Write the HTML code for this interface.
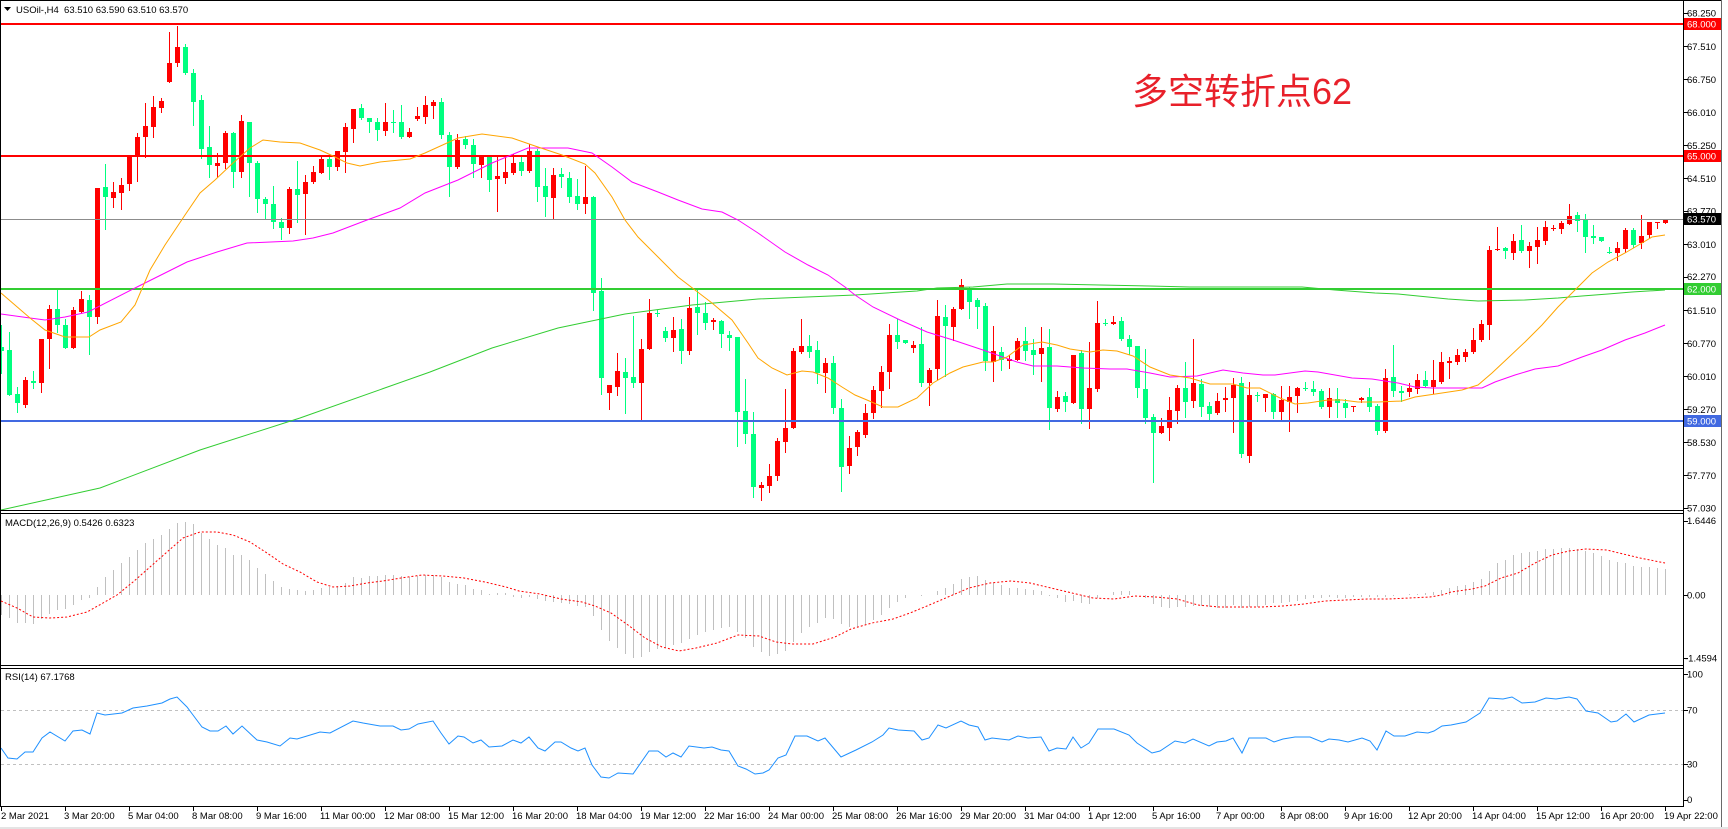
<!DOCTYPE html>
<html><head><meta charset="utf-8">
<style>
html,body{margin:0;padding:0;background:#fff;overflow:hidden;}
svg{display:block;}
text{font-family:"Liberation Sans",Arial,sans-serif;fill:#000;}
text.w{fill:#fff;}
.ax{font-size:9.5px;}
.tl{font-size:9.5px;}
.lb{font-size:9.5px;}
</style></head><body>
<svg id="c" width="1728" height="829" viewBox="0 0 1728 829" xmlns="http://www.w3.org/2000/svg">
<rect width="1728" height="829" fill="#fff"/>
<g id="hist" shape-rendering="crispEdges"></g>
<g id="cand" shape-rendering="crispEdges"></g>
<g shape-rendering="crispEdges">
<rect x="1" y="23" width="1682" height="2" fill="#ff0000"/>
<rect x="1" y="155" width="1682" height="2" fill="#ff0000"/>
<rect x="1" y="219" width="1682" height="1" fill="#8c8c8c"/>
<rect x="1" y="288" width="1682" height="2" fill="#32cd32"/>
<rect x="1" y="420" width="1682" height="2" fill="#4169e1"/>
</g>
<polyline fill="none" stroke="#32cd32" stroke-width="1" points="1,510 100,488 200,450 300,418 430,372 492,348 558,328 625,314 692,305 758,299 855,295 917,291 937,288 973,287 1007,284 1053,284 1100,285 1150,286 1190,287 1280,287 1302,287 1335,290 1375,293 1398,294 1418,296 1448,299 1478,301 1525,300 1558,298 1582,296 1608,294 1632,292 1665,290"/>
<polyline fill="none" stroke="#ff00ff" stroke-width="1" points="1,314 30,318 45,320 65,317 88,312 137,287 187,262 217,252 247,243 293,241 313,238 333,233 367,220 400,208 425,193 458,180 492,163 528,148 568,148 592,153 612,167 632,182 658,192 678,200 702,209 722,212 738,220 758,233 785,252 808,265 828,275 845,287 855,295 873,307 900,320 927,332 953,340 983,350 1017,362 1033,366 1057,366 1083,368 1110,369 1127,369 1150,373 1170,377 1197,376 1223,370 1243,373 1263,375 1275,375 1305,371 1318,372 1352,378 1372,379 1398,383 1415,387 1432,388 1482,388 1495,382 1515,375 1535,369 1558,366 1582,357 1602,350 1625,340 1645,333 1665,325"/>
<polyline fill="none" stroke="#ffa500" stroke-width="1" points="1,293 30,318 45,330 65,337 89,337 100,330 121,322 135,305 150,270 165,245 185,215 200,193 215,180 233,163 250,148 263,140 280,142 300,143 320,150 333,156 347,163 360,166 380,162 410,159 425,153 458,138 482,134 512,138 535,146 562,155 585,164 595,173 612,197 625,220 638,237 658,257 678,277 695,290 712,303 732,320 748,343 758,358 772,368 787,375 802,371 813,372 828,378 842,387 855,395 867,400 883,407 898,407 917,398 933,383 950,373 963,367 983,362 993,362 1007,357 1023,345 1042,342 1057,345 1070,349 1090,352 1103,350 1117,351 1133,356 1150,367 1170,375 1190,378 1210,384 1233,384 1247,388 1260,388 1280,398 1295,404 1308,403 1328,400 1342,400 1358,402 1378,402 1402,401 1415,397 1442,393 1462,390 1478,385 1492,373 1508,358 1525,342 1542,325 1558,307 1575,290 1592,273 1608,262 1625,253 1642,243 1652,237 1665,235"/>
<polyline fill="none" stroke="#ff0000" stroke-width="1" stroke-dasharray="2 2" points="1,601 17,608 33,617 50,618 67,617 87,612 103,603 117,595 133,582 150,567 167,552 183,538 200,532 217,532 233,535 250,542 267,553 283,564 300,572 317,582 333,587 350,586 367,583 383,581 401,578 422,575 443,576 464,578 485,582 506,587 519,591 540,594 561,599 582,602 595,606 611,613 628,625 645,638 662,647 679,651 696,648 717,643 738,635 759,636 776,642 792,644 813,644 835,637 851,629 872,623 893,619 910,613 927,606 948,597 969,588 990,583 1011,581 1030,583 1051,588 1072,593 1093,598 1114,599 1135,596 1156,597 1177,599 1198,605 1219,607 1240,607 1261,607 1283,606 1304,604 1325,601 1346,600 1367,599 1388,599 1409,598 1430,597 1442,595 1451,592 1472,589 1485,586 1501,578 1518,573 1535,563 1552,555 1569,551 1586,549 1607,550 1619,553 1640,558 1665,563"/>
<line x1="1" y1="710.5" x2="1683" y2="710.5" stroke="#c0c0c0" stroke-width="1" stroke-dasharray="3 3"/>
<line x1="1" y1="764.5" x2="1683" y2="764.5" stroke="#c0c0c0" stroke-width="1" stroke-dasharray="3 3"/>
<polyline fill="none" stroke="#1e90ff" stroke-width="1" points="1,748 8,758 17,759 25,752 33,752 42,738 50,732 65,741 73,731 82,730 90,734 97,713 105,715 122,713 133,708 147,706 162,703 170,699 177,697 187,707 193,715 202,727 210,731 218,731 226,726 233,734 242,726 257,740 267,742 280,746 290,738 297,739 307,736 320,732 330,733 353,721 363,723 380,726 393,726 401,730 409,729 418,724 433,721 441,733 449,744 458,736 464,737 473,743 481,740 489,747 502,746 513,740 521,743 529,737 538,748 545,751 555,742 561,742 571,748 578,751 585,748 592,765 601,777 609,778 618,773 633,774 649,751 658,751 666,757 673,753 681,757 689,746 704,748 712,747 721,750 729,751 738,766 746,769 755,774 763,773 769,770 778,758 786,755 795,736 807,736 818,741 825,738 841,757 856,750 872,742 883,735 889,728 898,730 914,731 922,740 929,738 938,725 946,728 961,721 969,725 978,727 985,740 992,738 1009,740 1018,736 1028,738 1041,737 1049,751 1057,748 1066,749 1073,737 1081,748 1089,743 1098,729 1114,729 1129,735 1137,743 1152,753 1160,751 1175,741 1185,743 1193,739 1209,746 1217,742 1226,741 1233,738 1242,753 1249,738 1266,738 1274,742 1283,739 1295,737 1310,737 1322,742 1329,739 1339,740 1348,742 1362,738 1370,741 1377,750 1386,731 1394,736 1405,736 1417,732 1428,733 1434,731 1442,726 1451,725 1466,722 1480,713 1489,698 1503,699 1512,697 1522,703 1535,702 1546,698 1556,699 1569,697 1577,699 1586,711 1598,713 1611,722 1617,721 1626,714 1634,722 1649,715 1657,714 1665,713"/>
<g shape-rendering="crispEdges" fill="#000">
<rect x="0" y="0" width="1722" height="1"/>
<rect x="0" y="0" width="1" height="807"/>
<rect x="1683" y="0" width="1" height="807"/>
<rect x="0" y="510" width="1684" height="1"/>
<rect x="0" y="513" width="1684" height="1"/>
<rect x="0" y="665" width="1684" height="1"/>
<rect x="0" y="668" width="1684" height="1"/>
<rect x="0" y="806" width="1684" height="1"/>
<rect x="1721" y="0" width="1" height="829" fill="#6a6a6a"/>
<rect x="0" y="827" width="1728" height="2" fill="#e4e4e4"/>
</g>
<g id="ticks" shape-rendering="crispEdges" fill="#000"></g>
<g class="ax">
<text x="1687" y="16.5">68.250</text>
<text x="1687" y="50">67.510</text>
<text x="1687" y="83">66.750</text>
<text x="1687" y="116">66.010</text>
<text x="1687" y="149">65.250</text>
<text x="1687" y="182">64.510</text>
<text x="1687" y="214.5">63.770</text>
<text x="1687" y="248">63.010</text>
<text x="1687" y="280">62.270</text>
<text x="1687" y="314">61.510</text>
<text x="1687" y="347">60.770</text>
<text x="1687" y="380">60.010</text>
<text x="1687" y="413">59.270</text>
<text x="1687" y="446">58.530</text>
<text x="1687" y="479">57.770</text>
<text x="1687" y="511.5">57.030</text>
</g>
<g shape-rendering="crispEdges">
<rect x="1684" y="18" width="37" height="12" fill="#ff0000"/>
<rect x="1684" y="150" width="37" height="12" fill="#ff0000"/>
<rect x="1684" y="213" width="37" height="12" fill="#000"/>
<rect x="1684" y="283" width="37" height="12" fill="#32cd32"/>
<rect x="1684" y="415" width="37" height="12" fill="#4169e1"/>
</g>
<g class="ax">
<text class="w" x="1687" y="27.5">68.000</text>
<text class="w" x="1687" y="159.5">65.000</text>
<text class="w" x="1687" y="222.5">63.570</text>
<text class="w" x="1687" y="292.5">62.000</text>
<text class="w" x="1687" y="424.5">59.000</text>
</g>
<g class="ax">
<text x="1687" y="524">1.6446</text>
<text x="1687" y="598.5">0.00</text>
<text x="1685" y="661.5">-1.4594</text>
<text x="1687" y="677.5">100</text>
<text x="1687" y="713.5">70</text>
<text x="1687" y="767.5">30</text>
<text x="1687" y="803">0</text>
</g>
<polygon points="4,7 11,7 7.5,11" fill="#000"/>
<text class="lb" x="16" y="13" xml:space="preserve">USOil-,H4  63.510 63.590 63.510 63.570</text>
<text class="lb" x="5" y="526">MACD(12,26,9) 0.5426 0.6323</text>
<text class="lb" x="5" y="680">RSI(14) 67.1768</text>
<text x="1132" y="104" style="font-family:'Liberation Sans','Noto Sans CJK SC',sans-serif;font-size:36px;fill:#e8202a;">多空转折点62</text>
<g id="tticks" shape-rendering="crispEdges" fill="#000"></g>
<g class="tl">
<text x="1" y="819">2 Mar 2021</text>
<text x="64" y="819">3 Mar 20:00</text>
<text x="128" y="819">5 Mar 04:00</text>
<text x="192" y="819">8 Mar 08:00</text>
<text x="256" y="819">9 Mar 16:00</text>
<text x="320" y="819">11 Mar 00:00</text>
<text x="384" y="819">12 Mar 08:00</text>
<text x="448" y="819">15 Mar 12:00</text>
<text x="512" y="819">16 Mar 20:00</text>
<text x="576" y="819">18 Mar 04:00</text>
<text x="640" y="819">19 Mar 12:00</text>
<text x="704" y="819">22 Mar 16:00</text>
<text x="768" y="819">24 Mar 00:00</text>
<text x="832" y="819">25 Mar 08:00</text>
<text x="896" y="819">26 Mar 16:00</text>
<text x="960" y="819">29 Mar 20:00</text>
<text x="1024" y="819">31 Mar 04:00</text>
<text x="1088" y="819">1 Apr 12:00</text>
<text x="1152" y="819">5 Apr 16:00</text>
<text x="1216" y="819">7 Apr 00:00</text>
<text x="1280" y="819">8 Apr 08:00</text>
<text x="1344" y="819">9 Apr 16:00</text>
<text x="1408" y="819">12 Apr 20:00</text>
<text x="1472" y="819">14 Apr 04:00</text>
<text x="1536" y="819">15 Apr 12:00</text>
<text x="1600" y="819">16 Apr 20:00</text>
<text x="1664" y="819">19 Apr 22:00</text>
</g>
</svg>
<script>
(function(){
var C=[
[0,325,347,351,373],[0,332,350,395,395],[0,387,394,403,412],[1,377,380,405,407],[0,371,381,383,388],
[1,339,339,383,392],[1,305,309,339,368],[0,289,309,325,332],[0,319,325,348,348],[1,307,310,348,348],
[1,291,299,312,312],[0,295,300,317,354],[1,188,188,317,323],[0,164,187,197,229],[1,182,192,198,207],
[1,178,185,193,209],[1,157,157,184,190],[1,133,137,157,181],[1,103,126,137,157],[1,96,107,127,137],
[1,98,101,108,112],[1,32,63,82,82],[1,26,47,63,66],[0,44,47,73,74],[0,69,73,102,125],
[0,95,100,149,158],[0,126,147,165,177],[1,153,163,166,177],[1,131,133,163,168],[0,132,133,172,187],
[1,115,121,172,177],[0,122,122,163,196],[0,161,163,199,212],[0,197,199,204,219],[0,186,204,222,228],
[0,218,222,228,239],[1,187,189,228,233],[0,161,189,195,222],[1,175,182,194,234],[1,166,172,182,183],
[1,157,159,173,173],[0,157,159,167,179],[1,151,151,167,170],[1,123,127,152,172],[1,109,109,129,142],
[0,104,108,118,119],[0,118,118,122,132],[0,118,122,130,140],[1,103,122,131,135],[0,110,122,123,132],
[0,105,122,137,138],[1,128,132,137,137],[1,107,116,119,120],[1,96,105,117,123],[1,100,102,106,118],
[0,98,102,135,138],[0,132,135,167,196],[1,134,140,167,168],[0,136,139,145,148],[0,139,145,164,177],
[1,156,156,165,177],[0,157,157,180,191],[1,157,176,179,211],[1,157,172,178,183],[1,154,163,173,174],
[0,157,162,171,175],[1,144,151,171,172],[0,149,151,187,201],[0,168,186,197,216],[1,168,175,198,219],
[0,168,174,177,187],[0,172,178,197,202],[0,179,196,204,209],[1,166,197,204,213],[0,196,197,293,310],
[0,278,291,378,394],[1,385,385,393,409],[1,353,371,387,395],[0,358,372,378,413],[0,316,377,383,387],
[1,339,349,383,420],[1,299,313,349,349],[0,310,313,314,316],[0,327,331,338,341],[1,317,330,338,351],
[0,319,329,351,363],[1,297,308,351,354],[0,289,307,313,334],[0,302,313,323,329],[1,318,320,322,329],
[0,320,321,334,347],[0,331,335,338,350],[0,337,337,412,446],[0,379,411,434,443],[0,412,434,487,497],
[1,482,485,488,500],[1,464,476,486,492],[1,438,441,476,480],[1,389,428,442,452],[1,348,351,428,428],
[1,319,346,352,353],[0,335,346,352,357],[0,341,350,373,383],[1,358,363,373,392],[0,356,363,408,413],
[0,399,408,467,491],[1,436,448,466,473],[1,430,432,447,455],[1,404,413,435,437],[1,386,390,413,418],
[1,366,372,391,407],[1,324,335,372,388],[0,319,335,342,348],[0,340,340,343,343],[1,341,345,348,352],
[0,327,344,383,386],[1,368,370,383,405],[1,300,316,369,379],[0,305,317,326,376],[1,307,309,327,340],
[1,279,285,309,309],[0,287,289,302,318],[0,298,300,307,328],[0,303,306,361,370],[1,326,351,362,381],
[0,347,352,360,370],[1,355,359,361,368],[1,338,341,360,360],[0,327,341,351,360],[0,339,350,355,374],
[1,327,348,354,381],[0,329,347,408,429],[1,391,397,409,411],[0,392,396,402,411],[1,355,355,403,403],
[0,350,353,409,423],[1,342,388,409,428],[1,301,323,389,391],[0,319,323,323,325],[1,316,322,324,324],
[0,317,321,339,340],[0,335,339,347,354],[0,346,346,388,397],[0,349,389,418,423],[0,414,417,433,482],
[1,418,426,433,433],[1,397,410,428,440],[1,385,388,411,423],[0,362,388,402,417],[1,339,383,401,407],
[0,379,384,407,416],[0,402,406,414,420],[1,393,401,413,414],[1,387,398,400,411],[1,378,385,398,432],
[0,377,383,454,457],[1,382,395,456,462],[0,392,395,396,401],[1,394,394,398,411],[0,393,394,412,418],
[1,386,400,412,419],[1,386,397,402,431],[1,387,388,396,412],[0,382,388,389,390],[0,381,389,392,395],
[0,389,391,407,408],[1,388,398,407,417],[0,388,399,403,417],[0,399,403,408,417],[1,406,406,407,411],
[1,397,398,400,402],[0,388,397,407,411],[0,404,406,431,434],[1,369,378,431,432],[0,345,377,391,396],
[0,386,391,393,401],[1,383,388,392,396],[1,374,380,389,393],[0,371,380,386,387],[1,360,380,387,393],
[1,352,362,382,383],[1,357,361,363,378],[1,349,355,362,364],[1,349,352,357,361],[1,328,340,352,353],
[1,320,324,340,341],[1,246,250,325,339],[1,227,249,250,250],[0,247,248,251,258],[1,234,241,253,259],
[0,225,240,251,252],[1,242,246,251,267],[1,227,240,247,263],[1,221,227,241,244],[1,225,228,229,230],
[1,221,223,229,233],[1,204,216,224,224],[0,212,215,221,231],[0,214,219,237,252],[0,225,236,238,243],
[0,237,237,241,241],[0,247,252,253,253],[1,242,248,253,260],[1,228,230,249,252],[0,228,230,245,247],
[1,215,236,243,248],[1,222,222,235,237],[1,222,222,223,228],[1,219,219,223,223]
];
var H=[615,618,623,623,624,619,614,610,609,605,600,598,587,577,570,563,557,550,543,539,535,529,523,522,524,533,539,545,548,555,555,560,568,574,581,587,589,590,591,590,588,587,586,583,577,578,576,576,575,575,576,577,576,575,575,577,582,584,585,589,590,594,593,593,597,598,597,599,601,602,603,604,606,607,616,630,641,648,654,658,657,652,649,648,645,643,639,635,632,630,628,627,632,638,647,652,656,654,651,642,633,627,623,618,619,624,627,627,625,620,615,608,602,598,595,596,595,591,588,584,579,577,576,580,583,585,588,588,589,590,591,596,598,602,601,603,604,598,595,592,591,591,595,598,604,607,608,607,607,606,606,607,608,608,605,608,607,607,605,603,603,602,601,599,598,598,597,598,598,597,597,597,597,597,596,595,594,594,593,592,590,588,586,585,582,579,571,563,560,555,553,552,551,549,549,548,548,549,551,553,556,560,562,563,566,567,567,568,569];
var NS='http://www.w3.org/2000/svg';
function R(g,x,y,w,h,f){var r=document.createElementNS(NS,'rect');r.setAttribute('x',x);r.setAttribute('y',y);r.setAttribute('width',w);r.setAttribute('height',h);r.setAttribute('fill',f);g.appendChild(r);}
var gc=document.getElementById('cand');
for(var k=0;k<C.length;k++){var d=C[k],x=8*k,col=d[0]?'#ff0000':'#00ff7f';
 R(gc,x+1,d[1],1,Math.max(1,d[4]-d[1]+1),col);
 R(gc,x-1,d[2],5,Math.max(1,d[3]-d[2]),col);}
var gh=document.getElementById('hist');var Z=595;
for(var k=0;k<H.length;k++){var v=H[k],x=8*k+1;
 if(v<Z)R(gh,x,v,1,Z-v,'#c0c0c0');else if(v>Z)R(gh,x,Z,1,v-Z,'#c0c0c0');}
var gt=document.getElementById('ticks');
[13,46,79,112,145,178,211,244,277,310,343,376,409,442,475,508,521,595,658,674,710,764,800].forEach(function(y){R(gt,1684,y,4,1,'#000');});
var gx=document.getElementById('tticks');
for(var j=0;j<27;j++)R(gx,1+64*j,806,1,5,'#000');
})();
</script>
</body></html>
